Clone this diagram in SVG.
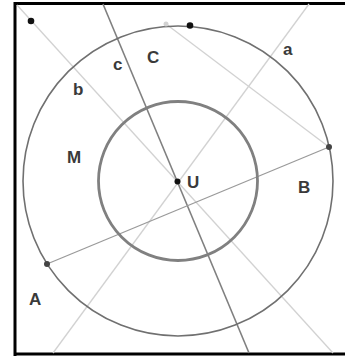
<svg xmlns="http://www.w3.org/2000/svg" width="345" height="356" viewBox="0 0 345 356">
<style>
.lbl{font-family:"Liberation Sans",Arial,sans-serif;font-size:17px;font-weight:bold;fill:#3a3a3a}
.light{stroke:#d2d2d2;stroke-width:1.3;fill:none}
.mid{stroke:#9a9a9a;stroke-width:1.3;fill:none}
.dark{stroke:#808080;stroke-width:1.6;fill:none}
.pt{fill:#111}
</style>
<rect x="0" y="0" width="345" height="356" fill="#fff"/>
<g id="frame" stroke="#000" stroke-width="3" fill="none">
<line x1="15" y1="2" x2="15" y2="356"/>
<line x1="14" y1="3.5" x2="345" y2="3.5"/>
<line x1="14" y1="354" x2="345" y2="354"/>
</g>
<g id="connectors">
<line id="line-b" class="light" x1="17" y1="5" x2="333" y2="353"/>
<line id="line-a" class="light" x1="309" y1="4" x2="53" y2="353"/>
<line id="line-c" class="dark" x1="103" y1="4" x2="249" y2="353"/>
<line id="chord-AB" class="mid" x1="47" y1="264" x2="329" y2="147"/>
<line id="chord-B" class="light" x1="166" y1="24" x2="329" y2="147"/>
</g>
<g id="outer-circle"><circle cx="178" cy="181" r="155" fill="none" stroke="#707070" stroke-width="1.6"/></g>
<g id="M"><circle cx="178" cy="181" r="79.5" fill="none" stroke="#808080" stroke-width="2.8"/><text class="lbl" x="67" y="163">M</text></g>
<g id="U"><circle class="pt" cx="177.5" cy="181.5" r="3"/><text class="lbl" x="187" y="188">U</text></g>
<g id="A"><circle cx="47" cy="264" r="3" fill="#444"/><text class="lbl" x="29" y="305">A</text></g>
<g id="B"><circle cx="329" cy="147" r="3" fill="#444"/><text class="lbl" x="298" y="193">B</text></g>
<g id="C"><circle class="pt" cx="190" cy="25.5" r="3.3"/><text class="lbl" x="147" y="63">C</text></g>
<g id="P1"><circle cx="166" cy="24" r="2.5" fill="#d2d2d2"/></g>
<g id="P2"><circle class="pt" cx="31" cy="21" r="3.3"/></g>
<g id="a"><text class="lbl" x="283" y="55">a</text></g>
<g id="b"><text class="lbl" x="73" y="95">b</text></g>
<g id="c"><text class="lbl" x="113" y="70">c</text></g>
</svg>
